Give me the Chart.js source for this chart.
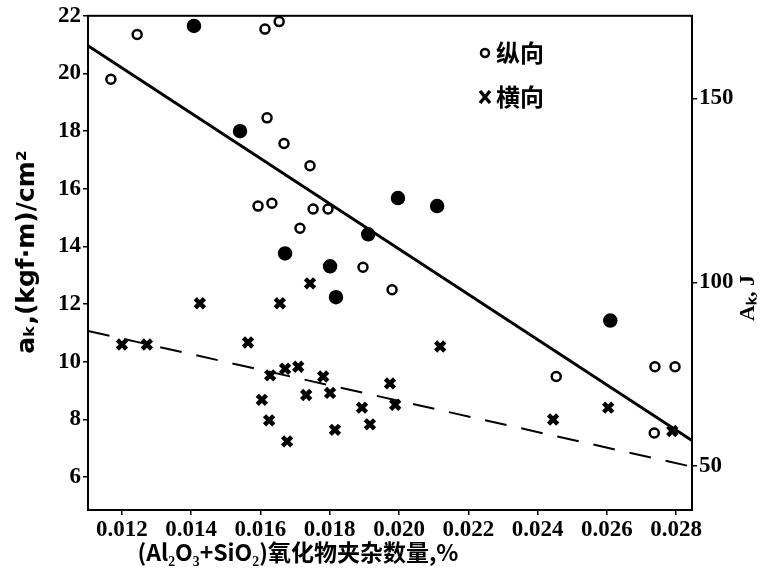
<!DOCTYPE html>
<html>
<head>
<meta charset="utf-8">
<script src="https://cdn.jsdelivr.net/npm/chart.js@4"></script>
<style>
  html, body { margin: 0; padding: 0; background: #fff; }
  #wrap { width: 777px; height: 577px; }
</style>
</head>
<body>
<div id="wrap"><canvas id="chart"></canvas></div>
<script>
// Ticks
const xTicks = [0.012, 0.014, 0.016, 0.018, 0.020, 0.022, 0.024, 0.026, 0.028];
const yTicks = [6, 8, 10, 12, 14, 16, 18, 20, 22];
const akTicks = [50, 100, 150];

// 纵向 (circles)
const longX = [0.01244, 0.01408, 0.01613, 0.01654, 0.01168, 0.01541, 0.01619, 0.01668, 0.01743,
  0.01997, 0.01593, 0.01633, 0.01752, 0.01795, 0.01714, 0.01911, 0.01671, 0.01801, 0.01896,
  0.01818, 0.01980, 0.02110, 0.02610, 0.02454, 0.02739, 0.02797, 0.02737];
const longY = [21.35, 21.65, 21.54, 21.8, 19.8, 18.0, 18.46, 17.57, 16.8,
  15.68, 15.4, 15.5, 15.3, 15.3, 14.63, 14.42, 13.76, 13.31, 13.28,
  12.24, 12.5, 15.4, 11.43, 9.49, 9.83, 9.83, 7.53];
// points that came out solid in the print
const longSolid = [1, 5, 9, 15, 16, 17, 19, 21, 22];

// 横向 (crosses)
const transX = [0.01425, 0.01656, 0.01743, 0.01200, 0.01272, 0.01564, 0.01628, 0.01671, 0.01709,
  0.01604, 0.01625, 0.01677, 0.01732, 0.01781, 0.01801, 0.01815, 0.01893, 0.01916, 0.01974,
  0.02119, 0.01989, 0.02445, 0.02604, 0.02789];
const transY = [12.03, 12.03, 12.72, 10.6, 10.6, 10.67, 9.53, 9.76, 9.83,
  8.68, 7.97, 7.24, 8.85, 9.49, 8.92, 7.64, 8.41, 7.83, 9.25,
  10.53, 8.51, 8.0, 8.41, 7.6];

// fitted lines (ends at the axis limits)
const lineX = [0.01102, 0.02846];
const longFit = [20.96, 7.27];
const transFit = [11.07, 6.36];

const X_MIN = 0.01102, X_MAX = 0.02846;
const Y_MIN = 4.86, Y_MAX = 22;
const J_PER_UNIT = 7.84; // kgf·m/cm2 -> J

const pts = (xs, ys) => xs.map((x, i) => ({ x: x, y: ys[i] }));

const serif = 'Liberation Serif';
const tickFont = { family: serif, size: 23, weight: 'bold' };

// frame, legend, axis titles
const extras = {
  id: 'extras',
  afterDraw(chart) {
    const ctx = chart.ctx;
    const a = chart.chartArea;
    ctx.save();
    ctx.strokeStyle = '#000';
    ctx.lineWidth = 2;
    ctx.strokeRect(a.left, a.top, a.right - a.left, a.bottom - a.top);

    // legend
    ctx.fillStyle = '#000';
    ctx.lineWidth = 2.5;
    ctx.beginPath();
    ctx.arc(485, 53, 4, 0, Math.PI * 2);
    ctx.stroke();
    ctx.lineWidth = 3.5;
    ctx.beginPath();
    ctx.moveTo(480, 91); ctx.lineTo(490, 103);
    ctx.moveTo(490, 91); ctx.lineTo(480, 103);
    ctx.stroke();
    ctx.font = 'bold 24px "Noto Sans CJK SC"';
    ctx.textBaseline = 'middle';
    ctx.fillText('纵向', 496, 53);
    ctx.fillText('横向', 496, 97);

    // x axis title
    ctx.textAlign = 'center';
    ctx.font = 'bold 23px "Noto Sans CJK SC"';
    ctx.fillText('(Al₂O₃+SiO₂)氧化物夹杂数量,%', 298, 552);

    // left axis title
    ctx.save();
    ctx.translate(27, 252);
    ctx.rotate(-Math.PI / 2);
    ctx.font = 'bold 25px "DejaVu Sans"';
    ctx.fillText('aₖ,(kgf·m)/cm²', 0, 0);
    ctx.restore();

    // right axis title, reads bottom to top
    ctx.translate(748, 298);
    ctx.rotate(-Math.PI / 2);
    ctx.font = 'bold 22px "Liberation Serif"';
    ctx.fillText('Aₖ, J', 0, 0);
    ctx.restore();
  }
};

function createChart() {
  const ctx = document.getElementById('chart').getContext('2d');
  new Chart(ctx, {
    type: 'scatter',
    data: {
      datasets: [
        {
          label: '纵向',
          data: pts(longX, longY),
          pointStyle: 'circle',
          pointRadius: c => longSolid.includes(c.dataIndex) ? 6 : 4.5,
          pointBackgroundColor: c => longSolid.includes(c.dataIndex) ? '#000' : '#fff',
          pointBorderColor: '#000',
          pointBorderWidth: 2.5
        },
        {
          label: '横向',
          data: pts(transX, transY),
          pointStyle: 'crossRot',
          pointRadius: 6.5,
          pointBorderColor: '#000',
          pointBorderWidth: 4.5
        },
        {
          label: 'fit1',
          data: pts(lineX, longFit),
          showLine: true,
          borderColor: '#000',
          borderWidth: 3,
          pointRadius: 0
        },
        {
          label: 'fit2',
          data: pts(lineX, transFit),
          showLine: true,
          borderColor: '#000',
          borderWidth: 2,
          borderDash: [22, 15],
          pointRadius: 0
        }
      ]
    },
    options: {
      responsive: true,
      maintainAspectRatio: false,
      animation: false,
      layout: { padding: { top: 15, left: 0, right: 0, bottom: 0 } },
      plugins: { legend: { display: false }, tooltip: { enabled: false } },
      scales: {
        x: {
          type: 'linear',
          min: X_MIN,
          max: X_MAX,
          afterBuildTicks: s => { s.ticks = xTicks.map(v => ({ value: v })); },
          afterFit: s => { s.height = 67; },
          ticks: {
            color: '#000', font: tickFont, padding: 1, autoSkip: false, maxRotation: 0,
            callback: v => v.toFixed(3)
          },
          grid: { drawOnChartArea: false, color: '#000', tickLength: 5, lineWidth: 1.5 },
          border: { color: '#000', width: 2 }
        },
        y: {
          position: 'left',
          min: Y_MIN,
          max: Y_MAX,
          afterBuildTicks: s => { s.ticks = yTicks.map(v => ({ value: v })); },
          afterFit: s => { s.width = 88; },
          ticks: { color: '#000', font: tickFont, padding: 2 },
          grid: { drawOnChartArea: false, color: '#000', tickLength: 5, lineWidth: 1.5 },
          border: { color: '#000', width: 2 }
        },
        yR: {
          position: 'right',
          min: Y_MIN * J_PER_UNIT,
          max: Y_MAX * J_PER_UNIT,
          afterBuildTicks: s => { s.ticks = akTicks.map(v => ({ value: v })); },
          afterFit: s => { s.width = 85; },
          ticks: { color: '#000', font: tickFont, padding: 2 },
          grid: { drawOnChartArea: false, color: '#000', tickLength: 5, lineWidth: 1.5 },
          border: { color: '#000', width: 2 }
        }
      }
    },
    plugins: [extras]
  });
}

document.addEventListener('DOMContentLoaded', function() {
  createChart();
});
</script>
</body>
</html>
